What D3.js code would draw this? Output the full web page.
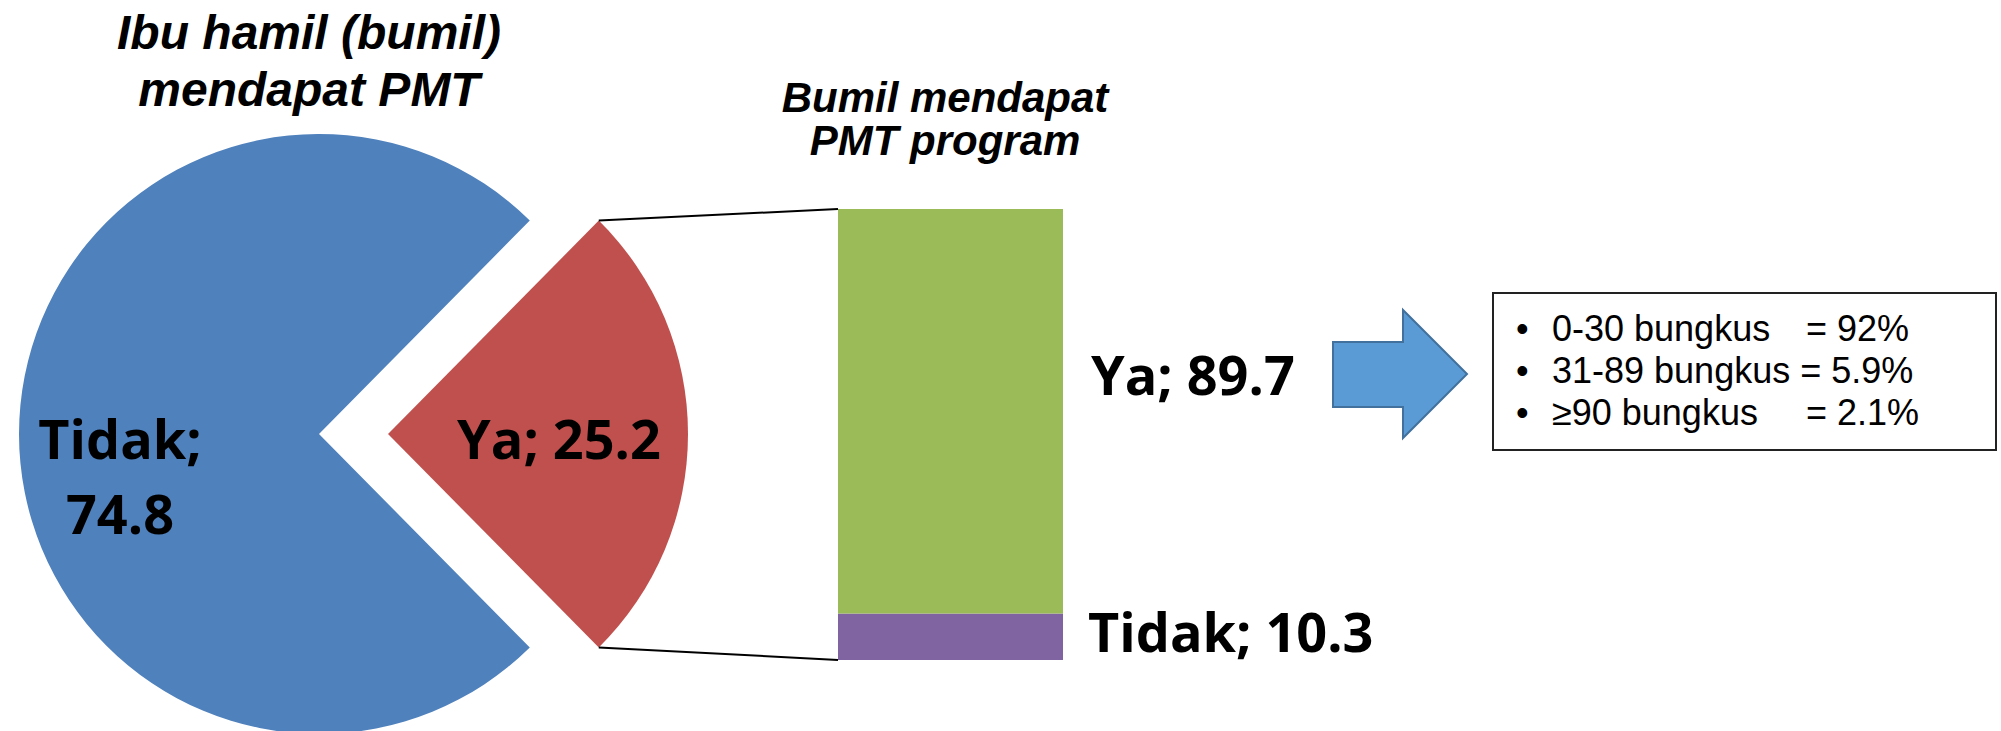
<!DOCTYPE html>
<html>
<head>
<meta charset="utf-8">
<script src="https://cdn.jsdelivr.net/npm/d3@7"></script>
<style>
  body { margin: 0; background: #fff; }
  svg { display: block; }
</style>
</head>
<body>
<div id="chart"></div>
<script>
// data
var pieLabels = ['Tidak', 'Ya'];
var pieValues = [74.8, 25.2];
var barLabels = ['Tidak', 'Ya'];
var barValues = [10.3, 89.7];
var detailLabels = ['0-30 bungkus', '31-89 bungkus', '\u226590 bungkus'];
var detailValues = ['92%', '5.9%', '2.1%'];
var pieTitle = ['Ibu hamil (bumil)', 'mendapat PMT'];
var barTitle = ['Bumil mendapat', 'PMT program'];

// params
var width = 2001;
var height = 731;
var cx = 319;
var cy = 434;
var radius = 300;
var explode = 69;
var pieColors = { Tidak: '#4f81bd', Ya: '#c0504d' };
var barColors = { Tidak: '#8064a2', Ya: '#9bbb59' };
var labelFont = "'Open Sans', sans-serif";
var titleFont = "'Liberation Sans', Arial, sans-serif";

var svg = d3.select('#chart').append('svg')
  .attr('width', width)
  .attr('height', height);

// pie: the "Ya" slice is centred on the 3 o'clock direction
var total = d3.sum(pieValues);
var halfYa = (pieValues[1] / total) * Math.PI;
var pieData = pieLabels.map((l, i) => ({ label: l, value: pieValues[i] }));
var pie = d3.pie()
  .sort(null)
  .value(d => d.value)
  .startAngle(Math.PI / 2 + halfYa)
  .endAngle(Math.PI / 2 + halfYa + 2 * Math.PI);
var arcs = pie(pieData);
var arc = d3.arc().innerRadius(0).outerRadius(radius);

var pieG = svg.append('g').attr('transform', `translate(${cx}, ${cy})`);
pieG.selectAll('path')
  .data(arcs)
  .enter()
  .append('path')
  .attr('d', arc)
  .attr('fill', d => pieColors[d.data.label])
  .attr('transform', d => (d.data.label === 'Ya' ? `translate(${explode}, 0)` : null));

// bar
var barX = 838;
var barW = 225;
var y = d3.scaleLinear().domain([0, 100]).range([660, 209]);
var stack = d3.stack().keys(barLabels);
var stacked = stack([Object.fromEntries(barLabels.map((l, i) => [l, barValues[i]]))]);

svg.append('g')
  .selectAll('rect')
  .data(stacked)
  .enter()
  .append('rect')
  .attr('x', barX)
  .attr('width', barW)
  .attr('y', d => y(d[0][1]))
  .attr('height', d => y(d[0][0]) - y(d[0][1]))
  .attr('fill', d => barColors[d.key]);

// connector lines from the exploded slice to the bar
var yaArc = arcs[1];
var corners = [yaArc.startAngle, yaArc.endAngle].map(a => [
  cx + explode + Math.sin(a) * radius,
  cy - Math.cos(a) * radius
]);
svg.append('line')
  .attr('x1', corners[0][0]).attr('y1', corners[0][1])
  .attr('x2', barX).attr('y2', y(100))
  .attr('stroke', '#000').attr('stroke-width', 2);
svg.append('line')
  .attr('x1', corners[1][0]).attr('y1', corners[1][1])
  .attr('x2', barX).attr('y2', y(0))
  .attr('stroke', '#000').attr('stroke-width', 2);

// pie labels
var labelStyle = sel => sel
  .attr('font-family', labelFont)
  .attr('font-weight', 700)
  .attr('font-size', 54)
  .attr('fill', '#000');

svg.append('text')
  .call(labelStyle)
  .attr('x', cx + explode + 171)
  .attr('y', 459)
  .attr('text-anchor', 'middle')
  .text(`${pieLabels[1]}; ${pieValues[1]}`);

var tidakText = svg.append('text')
  .call(labelStyle)
  .attr('text-anchor', 'middle');
tidakText.append('tspan').attr('x', 120).attr('y', 459).text(`${pieLabels[0]};`);
tidakText.append('tspan').attr('x', 120).attr('y', 534).text(pieValues[0]);

// bar labels
svg.append('text')
  .call(labelStyle)
  .attr('x', barX + barW + 28)
  .attr('y', y(50) - 40)
  .text(`${barLabels[1]}; ${barValues[1]}`);
svg.append('text')
  .call(labelStyle)
  .attr('x', barX + barW + 25)
  .attr('y', y(barValues[0] / 2) + 15)
  .text(`${barLabels[0]}; ${barValues[0]}`);

// titles
var pieTitleText = svg.append('text')
  .attr('font-family', titleFont)
  .attr('font-weight', 700)
  .attr('font-style', 'italic')
  .attr('font-size', 48)
  .attr('text-anchor', 'middle');
pieTitle.forEach((t, i) => {
  pieTitleText.append('tspan').attr('x', 309).attr('y', 49 + i * 57).text(t);
});

var barTitleText = svg.append('text')
  .attr('font-family', titleFont)
  .attr('font-weight', 700)
  .attr('font-style', 'italic')
  .attr('font-size', 42)
  .attr('text-anchor', 'middle');
barTitle.forEach((t, i) => {
  barTitleText.append('tspan').attr('x', 945).attr('y', 112 + i * 43).text(t);
});

// arrow
svg.append('polygon')
  .attr('points', [[1333, 342], [1403, 342], [1403, 310], [1467, 374], [1403, 438], [1403, 407], [1333, 407]].join(' '))
  .attr('fill', '#5b9bd5')
  .attr('stroke', '#41719c')
  .attr('stroke-width', 2);

// detail box
svg.append('rect')
  .attr('x', 1493)
  .attr('y', 293)
  .attr('width', 503)
  .attr('height', 157)
  .attr('fill', '#fff')
  .attr('stroke', '#222')
  .attr('stroke-width', 2);

var rows = svg.append('g')
  .attr('font-family', titleFont)
  .attr('font-size', 36)
  .attr('fill', '#000')
  .selectAll('text')
  .data(detailLabels)
  .enter()
  .append('text')
  .attr('y', (d, i) => 341 + i * 42);

// bullet, label and value; the long middle row pushes its "=" along
rows.append('tspan').attr('x', 1516).text('\u2022');
rows.append('tspan').attr('x', 1552).text(d => d);
rows.append('tspan')
  .attr('x', (d, i) => (i === 1 ? null : 1806))
  .text((d, i) => (i === 1 ? ' ' : '') + `= ${detailValues[i]}`);
</script>
</body>
</html>
